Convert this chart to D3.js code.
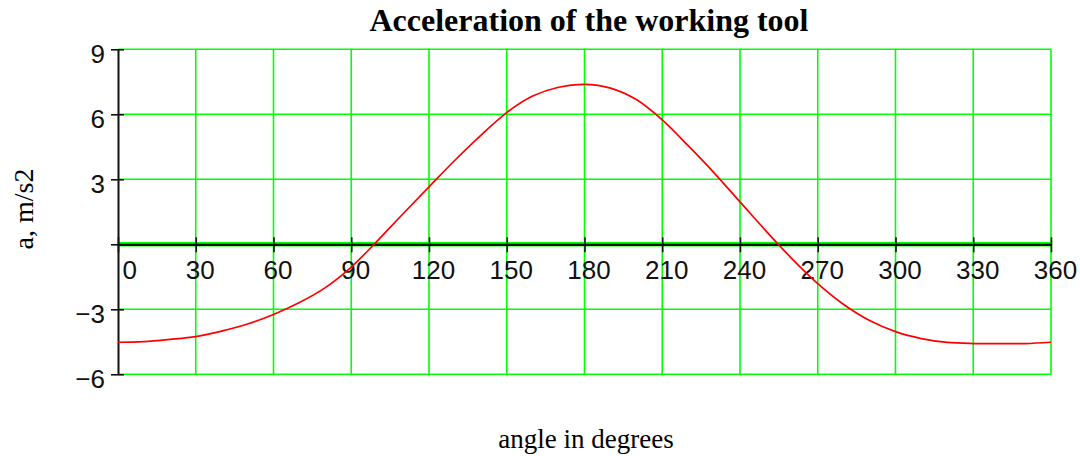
<!DOCTYPE html>
<html>
<head>
<meta charset="utf-8">
<script src="https://cdn.jsdelivr.net/npm/d3@7"></script>
<style>
  html, body { margin: 0; padding: 0; background: #fff; }
  svg { display: block; }
</style>
</head>
<body>
<svg id="chart" width="1080" height="456"></svg>
<script>
// Crank angle in degrees and the tool acceleration in m/s²
const angles = [0, 10, 20, 30, 40, 50, 60, 70, 80, 90,
                100, 110, 120, 130, 140, 150, 160, 170, 180,
                190, 200, 210, 220, 230, 240, 250, 260, 270,
                280, 290, 300, 310, 320, 330, 340, 350, 360];
const accel = [-4.52, -4.49, -4.39, -4.26, -4.01, -3.68, -3.24, -2.69, -2.00, -1.05,
               0.15, 1.41, 2.65, 3.88, 5.03, 6.08, 6.84, 7.25, 7.38,
               7.21, 6.68, 5.74, 4.55, 3.30, 1.96, 0.62, -0.66, -1.82,
               -2.78, -3.52, -4.03, -4.35, -4.53, -4.58, -4.58, -4.58, -4.52];

const xTicks = [0, 30, 60, 90, 120, 150, 180, 210, 240, 270, 300, 330, 360];
const yTicks = [-6, -3, 0, 3, 6, 9];

const titleText = "Acceleration of the working tool";
const xTitle = "angle in degrees";
const yTitle = "a, m/s2";

const svg = d3.select("#chart");

const x = d3.scaleLinear().domain([0, 360]).range([118, 1051]);
const y = d3.scaleLinear().domain([-6, 9]).range([374.3, 49.3]);

const GREEN = "#00ff00";
const tickFont = "'Liberation Sans', Arial, sans-serif";
const serif = "'Liberation Serif', 'Times New Roman', serif";

// Grid
const grid = svg.append("g");
grid.selectAll("line.v")
  .data(xTicks.filter(d => d > 0))
  .join("line")
  .attr("x1", d => x(d)).attr("x2", d => x(d))
  .attr("y1", y(9)).attr("y2", y(-6))
  .attr("stroke", GREEN).attr("stroke-width", 1.6);
grid.selectAll("line.h")
  .data(yTicks)
  .join("line")
  .attr("x1", x(0)).attr("x2", x(360))
  .attr("y1", d => y(d)).attr("y2", d => y(d))
  .attr("stroke", GREEN).attr("stroke-width", d => d === 0 ? 4.5 : 1.6);

// Y axis
const fmt = d => d === 0 ? "" : (d < 0 ? "\u2212" + Math.abs(d) : String(d));
const yAxis = svg.append("g")
  .attr("transform", `translate(${x(0)},0)`)
  .call(d3.axisLeft(y).tickValues(yTicks).tickFormat(fmt).tickSizeOuter(0));
yAxis.select(".domain").attr("stroke", "#111").attr("stroke-width", 2);
yAxis.selectAll(".tick line").attr("x1", -7).attr("x2", 6)
  .attr("stroke", "#111").attr("stroke-width", 1.6);
yAxis.selectAll(".tick text")
  .attr("x", -13).attr("dy", 0).attr("y", 13)
  .attr("fill", "#111")
  .style("font-family", tickFont).style("font-size", "26px");

// X axis along the zero line
const xAxis = svg.append("g")
  .attr("transform", `translate(0,${y(0)})`)
  .call(d3.axisBottom(x).tickValues(xTicks).tickFormat(d => String(d)).tickSizeOuter(0));
xAxis.select(".domain").attr("stroke", "#111").attr("stroke-width", 2.2);
xAxis.selectAll(".tick line").attr("y1", -7).attr("y2", 8)
  .attr("stroke", "#111").attr("stroke-width", 1.6);
xAxis.selectAll(".tick text")
  .attr("dy", 0).attr("y", 35)
  .attr("fill", "#111")
  .style("font-family", tickFont).style("font-size", "26px")
  .attr("x", function(d) {
    const w = this.getComputedTextLength();
    let cx = 4;
    const left = x(d) + cx - w / 2;
    if (left < x(0) + 4) cx += (x(0) + 4) - left;
    return cx;
  });

// Curve
const line = d3.line()
  .x((d, i) => x(angles[i]))
  .y(d => y(d))
  .curve(d3.curveCatmullRom.alpha(0.5));
svg.append("path")
  .datum(accel)
  .attr("d", line)
  .attr("fill", "none")
  .attr("stroke", "#ff0000")
  .attr("stroke-width", 1.7);

// Titles
svg.append("text")
  .attr("x", 589).attr("y", 31)
  .attr("text-anchor", "middle")
  .style("font-family", serif).style("font-weight", "bold").style("font-size", "32px")
  .attr("fill", "#000")
  .text(titleText);

svg.append("text")
  .attr("x", 586).attr("y", 448)
  .attr("text-anchor", "middle")
  .style("font-family", serif).style("font-size", "27px")
  .attr("fill", "#000")
  .text(xTitle);

svg.append("text")
  .attr("transform", "translate(33,209) rotate(-90)")
  .attr("text-anchor", "middle")
  .style("font-family", serif).style("font-size", "28px")
  .attr("fill", "#000")
  .text(yTitle);
</script>
</body>
</html>
